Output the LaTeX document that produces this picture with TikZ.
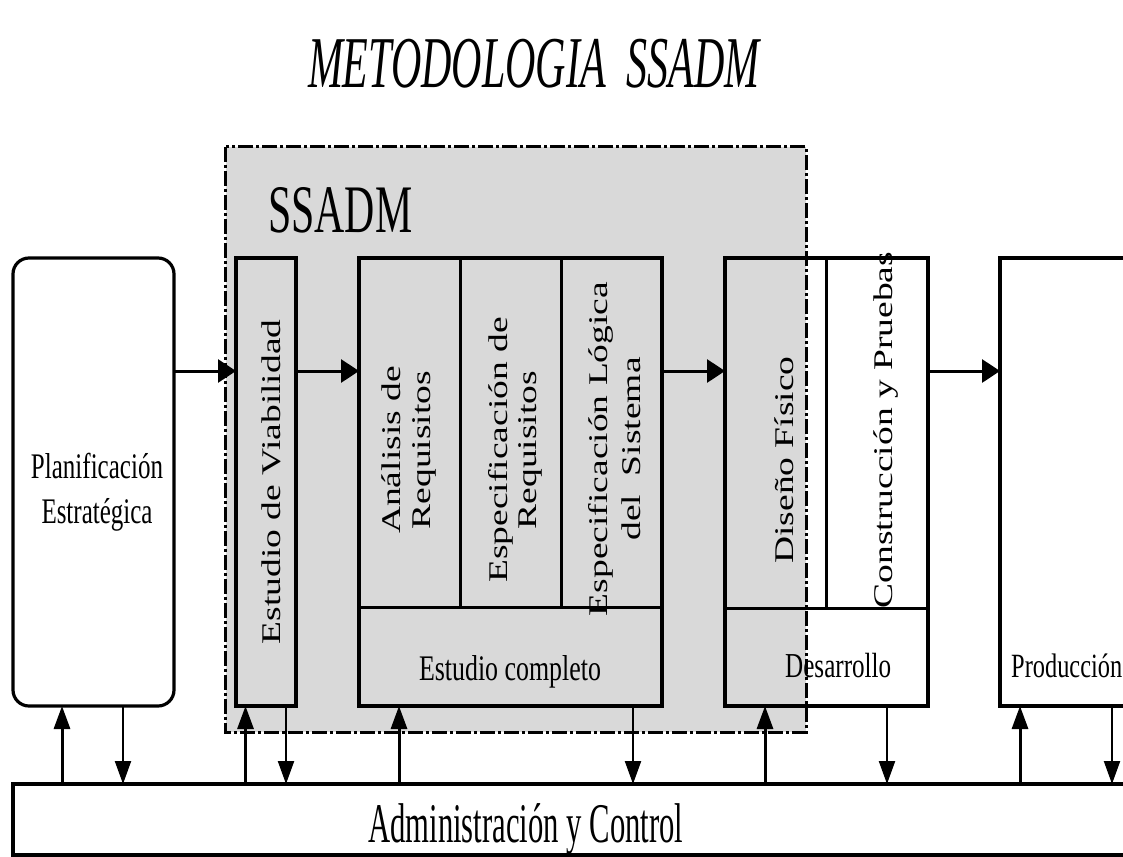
\documentclass[tikz,border=0pt]{standalone}
\usepackage{fontspec}
\setmainfont{Liberation Serif}
\usetikzlibrary{arrows.meta}
\definecolor{panelgray}{RGB}{217,217,217}

% horizontal label: font size, printed width, text
\newcommand\hlab[3]{{\fontsize{#1}{#1}\selectfont\resizebox{#2}{\height}{#3}}}
% upright label turned on its side: natural length, squeezed across the line
\newcommand\vlab[1]{{\fontsize{37.5}{41.5}\selectfont\scalebox{1}[0.72]{#1}}}

\begin{document}
\begin{tikzpicture}[x=1pt,y=-1pt,
  box/.style={draw, line width=3.2pt, inner sep=0pt, outer sep=0pt},
  divider/.style={line width=3pt},
  frame/.style={line width=3pt, dash pattern=on 15pt off 3pt on 3pt off 3pt},
  harr/.style={line width=3pt, -{Triangle[length=18pt,width=23pt]}},
  uparr/.style={line width=3pt, -{Triangle[length=23pt,width=16pt]}},
  dnarr/.style={line width=2.2pt, -{Triangle[length=23pt,width=16pt]}},
  side/.style={rotate=90, anchor=base, inner sep=0pt},
  flat/.style={anchor=base, inner sep=0pt}]
\useasboundingbox (0,0) rectangle (1123,856);
\clip (0,0) rectangle (1123,856);

% grey SSADM panel
\node[fill=panelgray, minimum width=580pt, minimum height=585pt, inner sep=0pt] (ssadm) at (516,439.5) {};

% stage boxes
\node[box, rounded corners=16pt, minimum width=161pt, minimum height=448pt] (plan) at (93.5,482) {};
\node[box, minimum width=60pt, minimum height=448pt] (viab) at (266,482) {};
\node[box, minimum width=303pt, minimum height=448pt] (est) at (510.5,482) {};
\node[box, minimum width=203pt, minimum height=448pt] (des) at (826.5,482) {};
\node[box, minimum width=140pt, minimum height=448pt, anchor=west] (prod) at (1000,482) {};
\node[box, minimum width=1140pt, minimum height=71pt, anchor=north west] (admin) at (13,784) {};

% inner divisions
\coordinate (cutE) at (0,607);
\coordinate (cutD) at (0,608);
\coordinate (vE1) at (460,0);
\coordinate (vE2) at (561,0);
\coordinate (vD1) at (826,0);
\draw[divider] (est.west |- cutE) -- (est.east |- cutE);
\draw[divider] (est.north -| vE1) -- (vE1 |- cutE);
\draw[divider] (est.north -| vE2) -- (vE2 |- cutE);
\draw[divider] (des.west |- cutD) -- (des.east |- cutD);
\draw[divider] (des.north -| vD1) -- (vD1 |- cutD);

% titles
\node[flat] (title) at (534,88) {\hlab{73}{452pt}{\itshape METODOLOGIA\ \ SSADM}};
\node[flat, anchor=base west] (ssadmlab) at (268,232) {\hlab{68}{144pt}{SSADM}};

% horizontal labels
\node[flat] (plan1) at (97,478) {\hlab{36}{132pt}{Planificación}};
\node[flat] (plan2) at (97,523) {\hlab{36}{111pt}{Estratégica}};
\node[flat] (estlab) at (510,680) {\hlab{36}{182pt}{Estudio completo}};
\node[flat, anchor=base west] (deslab) at (785,677) {\hlab{35}{106pt}{Desarrollo}};
\node[flat, anchor=base west] (prodlab) at (1011,677) {\hlab{34}{111pt}{Producción}};
\node[flat, anchor=base west] (adminlab) at (368,842) {\hlab{56}{315pt}{Administración y Control}};

% labels on their side
\node[side] (viablab) at (280,482) {\vlab{Estudio de Viabilidad}};
\node[side] (ana1) at (400,450) {\vlab{Análisis de}};
\node[side] (ana2) at (430,450) {\vlab{Requisitos}};
\node[side] (spe1) at (507,450) {\vlab{Especificación de}};
\node[side] (spe2) at (536,450) {\vlab{Requisitos}};
\node[side] (log1) at (607,449) {\vlab{Especificación Lógica}};
\node[side] (log2) at (640,449) {\vlab{del\ \ Sistema}};
\node[side] (dislab) at (793,460) {\vlab{Diseño Físico}};
\node[side] (conlab) at (892,430) {\vlab{Construcción y Pruebas}};

% dash-dot border of the SSADM panel
\draw[frame] (ssadm.north west) rectangle (ssadm.south east);

% main flow
\coordinate (row) at (0,371);
\draw[harr] (plan.east |- row) -- (viab.west |- row);
\draw[harr] (viab.east |- row) -- (est.west |- row);
\draw[harr] (est.east |- row) -- (des.west |- row);
\draw[harr] (des.east |- row) -- (prod.west |- row);

% links with Administración y Control
\coordinate (pu) at (62,0);   \coordinate (pd) at (123,0);
\coordinate (vu) at (245.5,0); \coordinate (vd) at (286,0);
\coordinate (eu) at (399,0);  \coordinate (ed) at (633,0);
\coordinate (du) at (765,0);  \coordinate (dd) at (887,0);
\coordinate (ru) at (1020,0); \coordinate (rd) at (1112,0);
\draw[uparr] (admin.north -| pu) -- (plan.south -| pu);
\draw[dnarr] (plan.south -| pd) -- (admin.north -| pd);
\draw[uparr] (admin.north -| vu) -- (viab.south -| vu);
\draw[dnarr] (viab.south -| vd) -- (admin.north -| vd);
\draw[uparr] (admin.north -| eu) -- (est.south -| eu);
\draw[dnarr] (est.south -| ed) -- (admin.north -| ed);
\draw[uparr] (admin.north -| du) -- (des.south -| du);
\draw[dnarr] (des.south -| dd) -- (admin.north -| dd);
\draw[uparr] (admin.north -| ru) -- (prod.south -| ru);
\draw[dnarr] (prod.south -| rd) -- (admin.north -| rd);
\end{tikzpicture}
\end{document}
